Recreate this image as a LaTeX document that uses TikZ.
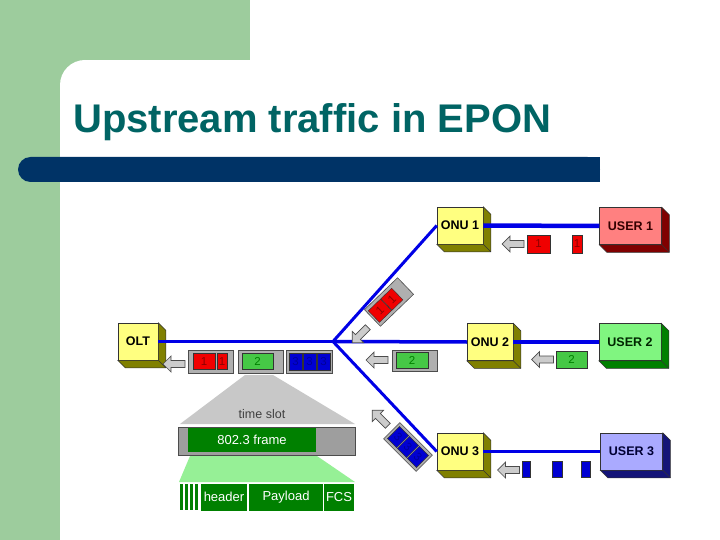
\documentclass[tikz,border=0pt]{standalone}
\usepackage{fontspec}
\setmainfont{Liberation Sans}
\usetikzlibrary{positioning}

\definecolor{bggreen}{RGB}{157,204,157}
\definecolor{barblue}{RGB}{0,51,102}
\definecolor{titlecol}{RGB}{0,100,100}
\definecolor{fiber}{RGB}{0,0,230}
\definecolor{onufront}{RGB}{255,255,128}
\definecolor{onuside}{RGB}{128,128,0}
\definecolor{redfront}{RGB}{255,128,128}
\definecolor{redside}{RGB}{128,0,0}
\definecolor{grnfront}{RGB}{128,245,128}
\definecolor{grnside}{RGB}{0,128,0}
\definecolor{blufront}{RGB}{170,170,255}
\definecolor{bluside}{RGB}{20,20,120}
\definecolor{padgray}{RGB}{175,175,175}
\definecolor{pktred}{RGB}{240,0,0}
\definecolor{pktgrn}{RGB}{70,200,70}
\definecolor{pktblu}{RGB}{0,0,210}
\definecolor{darkgrn}{RGB}{0,128,0}
\definecolor{slotgray}{RGB}{200,200,200}
\definecolor{litegrn}{RGB}{150,240,150}

\tikzset{
  box/.style={draw=black!80, line width=0.5pt, minimum height=37, inner sep=0,
    font=\bfseries\fontsize{12.5}{12.5}\selectfont},
  onu/.style={box, fill=onufront, minimum width=46},
  user/.style={box, minimum width=62},
  fibre/.style={fiber, line width=3.5pt},
  frame/.style={draw=black!70, line width=0.6pt, fill=padgray, minimum height=23, inner sep=0},
  pkt/.style={draw=black!80, line width=0.4pt, inner sep=0, font=\fontsize{11.5}{11.5}\selectfont},
  red pkt/.style={pkt, fill=pktred, text=black!45!red, minimum height=16},
  grn pkt/.style={pkt, fill=pktgrn, text=black!50!green, minimum height=16},
  blu pkt/.style={pkt, fill=pktblu, text=black!40!blue, minimum height=17, minimum width=13},
  field/.style={fill=darkgrn, text=white, inner sep=0, minimum height=27,
    font=\fontsize{13}{13}\selectfont},
  garrow/.pic={
    \draw[fill=black!20, draw=black!70, line width=0.7pt]
      (-11,0) -- (-3,-8) -- (-3,-3.5) -- (11,-3.5) -- (11,3.5) -- (-3,3.5) -- (-3,8) -- cycle;
  }
}

\begin{document}
\begin{tikzpicture}[x=1pt,y=-1pt]
  \useasboundingbox (0,0) rectangle (720,540);
  \fill[white] (0,0) rectangle (720,540);

  % Slide background
  \fill[bggreen] (0,0) rectangle (250,60);
  \fill[bggreen] (0,0) rectangle (60,540);
  \fill[bggreen] (60,60) rectangle (85,85);
  \fill[white] (85,85) circle (25);
  \fill[barblue, rounded corners=12.5] (18,157) rectangle (600,182);
  \fill[barblue] (560,157) rectangle (600,182);

  \node[anchor=base west, text=titlecol, inner sep=0,
    font=\bfseries\fontsize{40}{40}\selectfont] (title) at (73,133) {Upstream traffic in EPON};

  % Boxes
  \node[box, fill=onufront, minimum width=40] (olt) at (138,341.5) {OLT};
  \node[onu] (onu1) at (460,225.5) {ONU 1};
  \node[onu] (onu2) at (490,342) {ONU 2};
  \node[onu] (onu3) at (460,451.5) {ONU 3};
  \node[user, fill=redfront, text=black!80!red] (user1) at (630.5,226) {USER 1};
  \node[user, fill=grnfront, text=black!85!green] (user2) at (630,342) {USER 2};
  \node[user, fill=blufront, text=black!80!blue] (user3) at (631.5,451.5) {USER 3};

  % 3D sides
  \foreach \n/\c in {olt/onuside, onu1/onuside, onu2/onuside, onu3/onuside,
                     user1/redside, user2/grnside, user3/bluside} {
    \filldraw[fill=\c, draw=black!80, line width=0.5pt]
      (\n.north east) -- ([shift={(7.5,7.5)}]\n.north east) -- ([shift={(7.5,7.5)}]\n.south east)
      -- ([shift={(7.5,7.5)}]\n.south west) -- (\n.south west) -- (\n.south east) -- cycle;
    \draw[black!80, line width=0.5pt] (\n.south east) -- ++(7.5,7.5);
  }

  % Fibres
  \coordinate (split) at (333,341.5);
  \draw[fibre] (olt.east) -- (split);
  \draw[fibre] (split) -- (onu2.west);
  \draw[fiber, line width=3pt] (split) -- (onu1.west);
  \draw[fiber, line width=3pt] (split) -- (onu3.west);
  \draw[fibre, line width=4.5pt] (onu1.east) -- (user1.west);
  \draw[fibre] (onu2.east) -- (user2.west);
  \draw[fibre] (onu3.east) -- (user3.west);

  % OLT queue
  \pic at (174,364) {garrow};
  \node[frame, minimum width=45] (q1) at (210.5,361.5) {};
  \node[red pkt, minimum width=22] (q1a) at (204,361.5) {1};
  \node[red pkt, minimum width=10] (q1b) at (222,361.5) {1};
  \node[frame, minimum width=45] (q2) at (260.5,361.5) {};
  \node[grn pkt, minimum width=31] (q2a) at (257.5,361.5) {2};
  \node[frame, minimum width=46] (q3) at (309,361.5) {};
  \foreach \x [count=\i] in {295.5,309.5,323.5}
    \node[blu pkt] (q3\i) at (\x,361.5) {3};

  % Time slot
  \fill[slotgray] (245,375) -- (273,375) -- (355,424) -- (180,424) -- cycle;
  \node[text=black!75, font=\fontsize{12.5}{12.5}\selectfont] (tslabel) at (262,414) {time slot};
  \node[frame, fill=black!38, minimum width=177, minimum height=28] (slot) at (266.5,441.5) {};
  \node[fill=darkgrn, text=white, inner sep=0, minimum width=128, minimum height=24,
    font=\fontsize{13}{13}\selectfont] (frm) at (252,440) {802.3 frame};
  \fill[litegrn] (190,456) -- (317,456) -- (355,482) -- (179,482) -- cycle;
  \foreach \x in {180,185,190,195}
    \fill[darkgrn] (\x,484) rectangle ++(2.5,26);
  \node[field, minimum width=46] (hdr) at (224,497) {header};
  \node[field, minimum width=74] (pay) at (286,497) {Payload};
  \node[field, minimum width=30] (fcs) at (339,497) {FCS};

  % ONU 1 branch
  \pic at (513,244) {garrow};
  \node[red pkt, minimum width=23, minimum height=18] (u1a) at (538.5,244) {1};
  \node[red pkt, minimum width=10, minimum height=18] (u1b) at (577,244) {1};
  \pic[rotate=45] at (360,335) {garrow};
  \begin{scope}[shift={(389,302)}, rotate=44, transform shape]
    \node[frame, minimum width=46] (d1) at (0,0) {};
    \node[red pkt, minimum width=17] (d1a) at (-12.5,0) {1};
    \node[red pkt, minimum width=15] (d1b) at (4,0) {1};
  \end{scope}

  % ONU 2 branch
  \pic at (377,360) {garrow};
  \node[frame, minimum width=45, minimum height=21] (o2) at (414.5,360.5) {};
  \node[grn pkt, minimum width=32] (o2a) at (412,360.5) {2};
  \pic at (542.5,359.5) {garrow};
  \node[grn pkt, minimum width=31, minimum height=17] (u2a) at (571.5,359.5) {2};

  % ONU 3 branch
  \pic at (508.5,470) {garrow};
  \foreach \x/\w [count=\i] in {526/8, 557/10, 585.5/9}
    \node[blu pkt, minimum width=\w, minimum height=16] (u3\i) at (\x,469.5) {};
  \pic[rotate=-45] at (380,418) {garrow};
  \begin{scope}[shift={(408,447)}, rotate=-45, transform shape]
    \node[frame, minimum width=46] (d3) at (0,0) {};
    \foreach \x [count=\i] in {-14,0,14}
      \node[blu pkt] (d3\i) at (\x,0) {3};
  \end{scope}
\end{tikzpicture}
\end{document}
